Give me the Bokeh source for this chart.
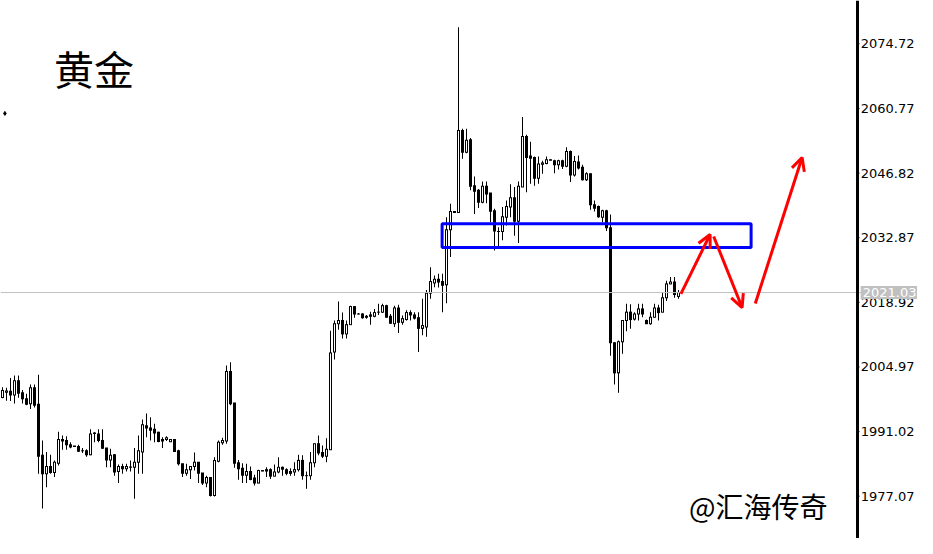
from bokeh.plotting import figure
from bokeh.models import (Range1d, Span, Label, BoxAnnotation, Arrow, OpenHead, ColumnDataSource)
from bokeh.core.properties import value
from bokeh.embed import file_html
from bokeh.resources import INLINE

# ---- data (one candle per bar) ----
opens = [1998.4, 1999.5, 1999.7, 1998.9, 2002.0, 1999.4, 1998.1, 1997.0, 2000.5, 1996.9,
         1985.9, 1981.9, 1983.5, 1982.2, 1984.2, 1989.3, 1989.1, 1988.2, 1987.9, 1987.8,
         1986.9, 1986.9, 1986.0, 1990.7, 1990.5, 1989.1, 1987.5, 1984.9, 1986.0, 1982.4,
         1983.5, 1983.0, 1983.3, 1983.3, 1984.4, 1986.6, 1992.3, 1991.8, 1991.5, 1990.9,
         1989.3, 1989.3, 1988.8, 1989.3, 1986.9, 1984.1, 1982.0, 1982.8, 1983.5, 1984.4,
         1982.1, 1979.9, 1981.1, 1977.2, 1984.6, 1988.6, 1989.0, 2004.0, 1997.2, 1984.3,
         1983.1, 1981.6, 1982.4, 1981.0, 1979.9, 1982.6, 1982.8, 1982.8, 1981.4, 1982.3,
         1983.3, 1982.8, 1982.4, 1982.3, 1982.8, 1984.8, 1981.5, 1981.5, 1984.3, 1988.4,
         1986.5, 1985.7, 1987.1, 2008.2, 2014.3, 2015.0, 2012.1, 2014.1, 2018.0, 2016.4,
         2016.4, 2015.9, 2016.2, 2015.9, 2016.8, 2016.8, 2018.2, 2015.9, 2014.3, 2017.7,
         2014.6, 2015.2, 2016.7, 2016.2, 2015.6, 2013.3, 2013.6, 2020.9, 2023.1, 2023.9,
         2023.4, 2022.7, 2034.6, 2038.5, 2038.3, 2056.0, 2051.3, 2054.0, 2044.1, 2043.1,
         2040.5, 2044.0, 2042.5, 2038.7, 2034.2, 2034.2, 2037.3, 2039.5, 2041.5, 2036.4,
         2043.8, 2054.7, 2050.5, 2050.2, 2045.7, 2048.7, 2048.9, 2049.7, 2049.5, 2048.6,
         2049.5, 2048.3, 2051.5, 2046.4, 2049.2, 2048.1, 2045.4, 2046.7, 2040.0, 2039.6,
         2037.3, 2038.7, 2035.0, 2010.2, 2003.7, 2010.4, 2015.0, 2016.8, 2015.3, 2016.4,
         2017.5, 2015.0, 2014.3, 2015.7, 2017.7, 2016.8, 2019.9, 2022.9, 2023.3, 2020.2]
highs = [2000.6, 2000.5, 2002.6, 2003.1, 2003.1, 2000.0, 1999.2, 2001.2, 2001.2, 2003.3,
         1989.1, 1986.6, 1986.0, 1984.8, 1991.0, 1990.2, 1990.0, 1988.7, 1987.9, 1988.2,
         1987.5, 1987.2, 1991.5, 1990.9, 1991.5, 1991.5, 1987.5, 1987.3, 1986.2, 1983.9,
         1984.1, 1984.1, 1984.8, 1987.5, 1990.2, 1993.6, 1994.9, 1994.1, 1992.7, 1991.0,
         1989.8, 1990.0, 1989.3, 1989.3, 1987.1, 1984.1, 1984.1, 1983.5, 1986.5, 1984.4,
         1982.1, 1981.5, 1981.1, 1985.5, 1989.1, 1989.7, 2005.3, 2006.0, 1997.2, 1984.9,
         1984.2, 1984.1, 1983.5, 1981.7, 1982.8, 1982.6, 1983.3, 1983.1, 1983.9, 1985.5,
         1983.5, 1983.1, 1983.1, 1984.4, 1986.0, 1985.9, 1982.4, 1986.6, 1988.4, 1990.2,
         1988.0, 1989.6, 2012.8, 2015.0, 2019.1, 2016.7, 2015.0, 2018.2, 2018.1, 2016.6,
         2016.6, 2016.2, 2016.9, 2017.5, 2018.6, 2018.6, 2018.4, 2016.4, 2018.2, 2018.4,
         2016.1, 2017.2, 2017.2, 2016.8, 2016.8, 2019.7, 2021.6, 2026.5, 2024.7, 2025.1,
         2025.1, 2037.3, 2040.2, 2038.5, 2078.3, 2056.4, 2056.4, 2054.4, 2046.1, 2043.4,
         2045.0, 2045.0, 2042.5, 2039.1, 2035.1, 2039.5, 2040.9, 2044.4, 2043.8, 2045.0,
         2058.9, 2055.1, 2053.6, 2050.4, 2050.4, 2049.5, 2050.4, 2049.8, 2049.7, 2049.7,
         2049.7, 2052.4, 2051.7, 2050.5, 2050.6, 2048.6, 2047.0, 2046.8, 2040.9, 2039.8,
         2038.9, 2038.9, 2037.9, 2010.3, 2010.7, 2015.0, 2018.6, 2018.5, 2016.8, 2018.6,
         2018.6, 2015.2, 2016.8, 2018.6, 2018.4, 2021.1, 2023.6, 2024.4, 2024.4, 2021.6]
lows = [1998.2, 1997.7, 1997.6, 1997.1, 1998.3, 1997.1, 1996.7, 1995.9, 1996.2, 1981.9,
        1974.4, 1979.0, 1981.9, 1981.2, 1983.7, 1987.1, 1987.1, 1987.4, 1987.7, 1986.6,
        1986.4, 1985.6, 1985.9, 1988.7, 1988.7, 1987.3, 1983.3, 1983.3, 1981.5, 1979.9,
        1981.9, 1982.4, 1982.4, 1976.5, 1981.9, 1981.9, 1989.8, 1989.1, 1988.7, 1988.7,
        1987.5, 1989.0, 1988.8, 1986.6, 1983.7, 1981.2, 1981.5, 1980.8, 1982.6, 1979.9,
        1979.5, 1979.0, 1977.0, 1977.0, 1984.4, 1988.2, 1988.4, 1996.7, 1983.2, 1980.6,
        1979.9, 1979.9, 1980.5, 1979.4, 1979.9, 1982.5, 1981.2, 1980.8, 1981.4, 1982.0,
        1981.5, 1981.6, 1981.5, 1981.5, 1982.4, 1980.6, 1978.7, 1980.6, 1983.3, 1985.9,
        1985.3, 1984.4, 1987.1, 2006.6, 2013.0, 2011.1, 2011.1, 2014.1, 2015.6, 2016.3,
        2015.4, 2015.4, 2014.1, 2015.7, 2016.2, 2016.6, 2015.6, 2014.3, 2013.6, 2012.3,
        2014.1, 2015.0, 2015.0, 2015.2, 2008.2, 2011.8, 2011.5, 2019.7, 2022.2, 2022.1,
        2016.8, 2018.7, 2028.7, 2038.2, 2038.2, 2049.9, 2051.1, 2043.1, 2038.0, 2039.3,
        2040.3, 2040.3, 2036.2, 2030.1, 2030.8, 2032.3, 2035.5, 2037.3, 2033.3, 2031.7,
        2043.8, 2042.7, 2044.5, 2044.1, 2044.5, 2046.7, 2048.7, 2049.6, 2046.8, 2047.6,
        2047.7, 2048.1, 2044.9, 2046.1, 2047.6, 2045.2, 2045.1, 2038.9, 2038.5, 2037.2,
        2036.2, 2034.3, 2007.4, 2001.2, 1999.4, 2007.8, 2012.7, 2013.2, 2015.0, 2015.0,
        2015.7, 2014.3, 2014.1, 2015.7, 2015.0, 2016.8, 2019.2, 2022.8, 2019.9, 2019.7]
closes = [1999.9, 1999.8, 1998.9, 2002.0, 1999.3, 1998.1, 1996.9, 2000.5, 1996.7, 1985.7,
          1981.9, 1983.5, 1982.2, 1984.4, 1989.3, 1989.0, 1988.2, 1987.7, 1987.8, 1986.8,
          1986.9, 1986.0, 1990.5, 1990.6, 1989.1, 1987.4, 1984.9, 1985.9, 1982.3, 1983.5,
          1983.0, 1983.5, 1983.4, 1984.4, 1986.9, 1992.5, 1991.8, 1991.3, 1990.7, 1988.9,
          1989.0, 1989.7, 1989.3, 1986.7, 1984.1, 1982.0, 1982.8, 1983.5, 1984.4, 1982.0,
          1979.9, 1981.1, 1977.2, 1984.8, 1988.7, 1989.1, 2004.0, 1997.0, 1984.2, 1983.0,
          1981.6, 1982.4, 1980.7, 1979.9, 1982.6, 1982.5, 1982.5, 1981.4, 1982.3, 1983.3,
          1982.9, 1982.0, 1982.0, 1982.8, 1984.8, 1981.5, 1981.5, 1984.3, 1988.4, 1986.4,
          1985.7, 1987.2, 2008.0, 2014.3, 2015.0, 2012.1, 2014.1, 2018.0, 2016.4, 2016.4,
          2015.6, 2015.7, 2015.9, 2016.7, 2016.8, 2018.2, 2015.7, 2014.4, 2017.7, 2014.6,
          2015.4, 2016.7, 2016.2, 2015.5, 2013.3, 2013.9, 2020.9, 2023.4, 2023.9, 2023.3,
          2022.6, 2034.6, 2038.5, 2038.3, 2056.0, 2051.3, 2053.9, 2044.0, 2042.9, 2040.5,
          2044.0, 2042.3, 2038.6, 2034.3, 2034.2, 2037.4, 2039.6, 2041.5, 2036.4, 2044.0,
          2054.7, 2050.2, 2050.0, 2045.7, 2048.8, 2049.0, 2049.7, 2049.6, 2048.6, 2049.5,
          2048.3, 2051.5, 2046.4, 2049.3, 2047.9, 2045.4, 2046.7, 2040.0, 2039.2, 2037.4,
          2038.7, 2035.0, 2010.2, 2003.7, 2010.4, 2015.0, 2016.8, 2015.2, 2016.4, 2017.5,
          2016.4, 2014.3, 2015.7, 2017.7, 2016.7, 2019.9, 2022.9, 2023.3, 2020.6, 2021.03]
bar_index = list(range(len(opens)))

axis_ticks = [1977.07, 1991.02, 2004.97, 2018.92, 2032.87, 2046.82, 2060.77, 2074.72]
axis_labels = ["%.2f" % t for t in axis_ticks]
last_price = 2021.03
last_price_label = "2021.03"
title_text = "黄金"
watermark_text = "@汇海传奇"

# drawn annotations (bar index / price units)
zone_left, zone_right, zone_top, zone_bottom = 109.9, 187.15, 2035.87, 2030.75
arrow_x0 = [169.6, 177.8, 188.2]
arrow_y0 = [2020.76, 2033.13, 2018.67]
arrow_x1 = [176.9, 184.9, 199.9]
arrow_y1 = [2033.56, 2017.8, 2050.18]
dot_x = [0.6]
dot_y = [2059.7]

# price scale position (bar-index units, right of the last bar)
scale_x = 213.75
tick_end_x = 214.25
label_x = 214.55

# ---- layout ----
W, H = 917, 538
x_lo, x_hi = -0.5, 228.75
y_lo, y_hi = 1967.94, 2084.07
half_px = 0.5 * (y_hi - y_lo) / H          # half a screen pixel, in price units

tops = [max(o, c) for o, c in zip(opens, closes)]
bottoms = [min(o, c) for o, c in zip(opens, closes)]
src = ColumnDataSource(dict(
    x=bar_index, high=highs, low=lows,
    outer_top=[t + half_px for t in tops], outer_bottom=[b - half_px for b in bottoms]))
ups = [i for i, (o, c) in zip(bar_index, zip(opens, closes)) if c > o and (c - o) > 2 * half_px]
up_src = ColumnDataSource(dict(
    x=ups,
    inner_top=[closes[i] - half_px for i in ups],
    inner_bottom=[opens[i] + half_px for i in ups]))

p = figure(width=W, height=H, x_range=Range1d(x_lo, x_hi), y_range=Range1d(y_lo, y_hi),
           output_backend="svg", toolbar_location=None, x_axis_location=None, y_axis_location=None,
           min_border=0, outline_line_color=None,
           background_fill_color="white", border_fill_color="white")
p.grid.visible = False

# wick (1 px), body outline (3 px) and hollow interior (1 px) of bullish candles
p.vbar(x="x", width=0.25, top="high", bottom="low", source=src, fill_color="black", line_color=None)
p.vbar(x="x", width=0.75, top="outer_top", bottom="outer_bottom", source=src,
       fill_color="black", line_color=None)
p.vbar(x="x", width=0.25, top="inner_top", bottom="inner_bottom", source=up_src,
       fill_color="white", line_color=None)

p.scatter(x=dot_x, y=dot_y, marker="diamond", size=4, fill_color="black", line_color="black")

p.add_layout(Span(location=last_price, dimension="width", line_color="#c0c0c0", line_width=1))

# price scale: thick line, ticks and labels
p.add_layout(Span(location=scale_x, dimension="height", line_color="black", line_width=3))
p.segment(x0=[scale_x] * len(axis_ticks), y0=axis_ticks, x1=[tick_end_x] * len(axis_ticks), y1=axis_ticks,
          line_color="black", line_width=1)
p.text(x=[label_x] * len(axis_ticks), y=axis_ticks, text=axis_labels, text_font=value("DejaVu Sans"),
       text_font_size="13px", text_color="black", text_baseline="middle", text_align="left")

p.add_layout(BoxAnnotation(left=zone_left, right=zone_right, top=zone_top, bottom=zone_bottom,
                           fill_color=None, fill_alpha=0, line_color="#0000ff", line_alpha=1.0,
                           line_width=3))

for xa, ya, xb, yb in zip(arrow_x0, arrow_y0, arrow_x1, arrow_y1):
    p.add_layout(Arrow(x_start=xa, y_start=ya, x_end=xb, y_end=yb, line_color="#ff0000", line_width=3,
                       end=OpenHead(size=13, line_color="#ff0000", line_width=3)))

p.add_layout(Label(x=12.9, y=2069.6, text=title_text, text_font="Noto Sans CJK SC",
                   text_font_size="40px", text_color="black", text_baseline="middle"))
p.add_layout(Label(x=171.6, y=1974.85, text=watermark_text, text_font="Noto Sans CJK SC",
                   text_font_size="28px", text_color="black", text_baseline="middle"))
p.add_layout(Label(x=label_x, y=last_price, text=last_price_label, text_font="DejaVu Sans",
                   text_font_size="13px", text_color="white", text_baseline="middle",
                   background_fill_color="#c0c0c0", padding=2))

open("out.html", "w").write(file_html(p, INLINE))
